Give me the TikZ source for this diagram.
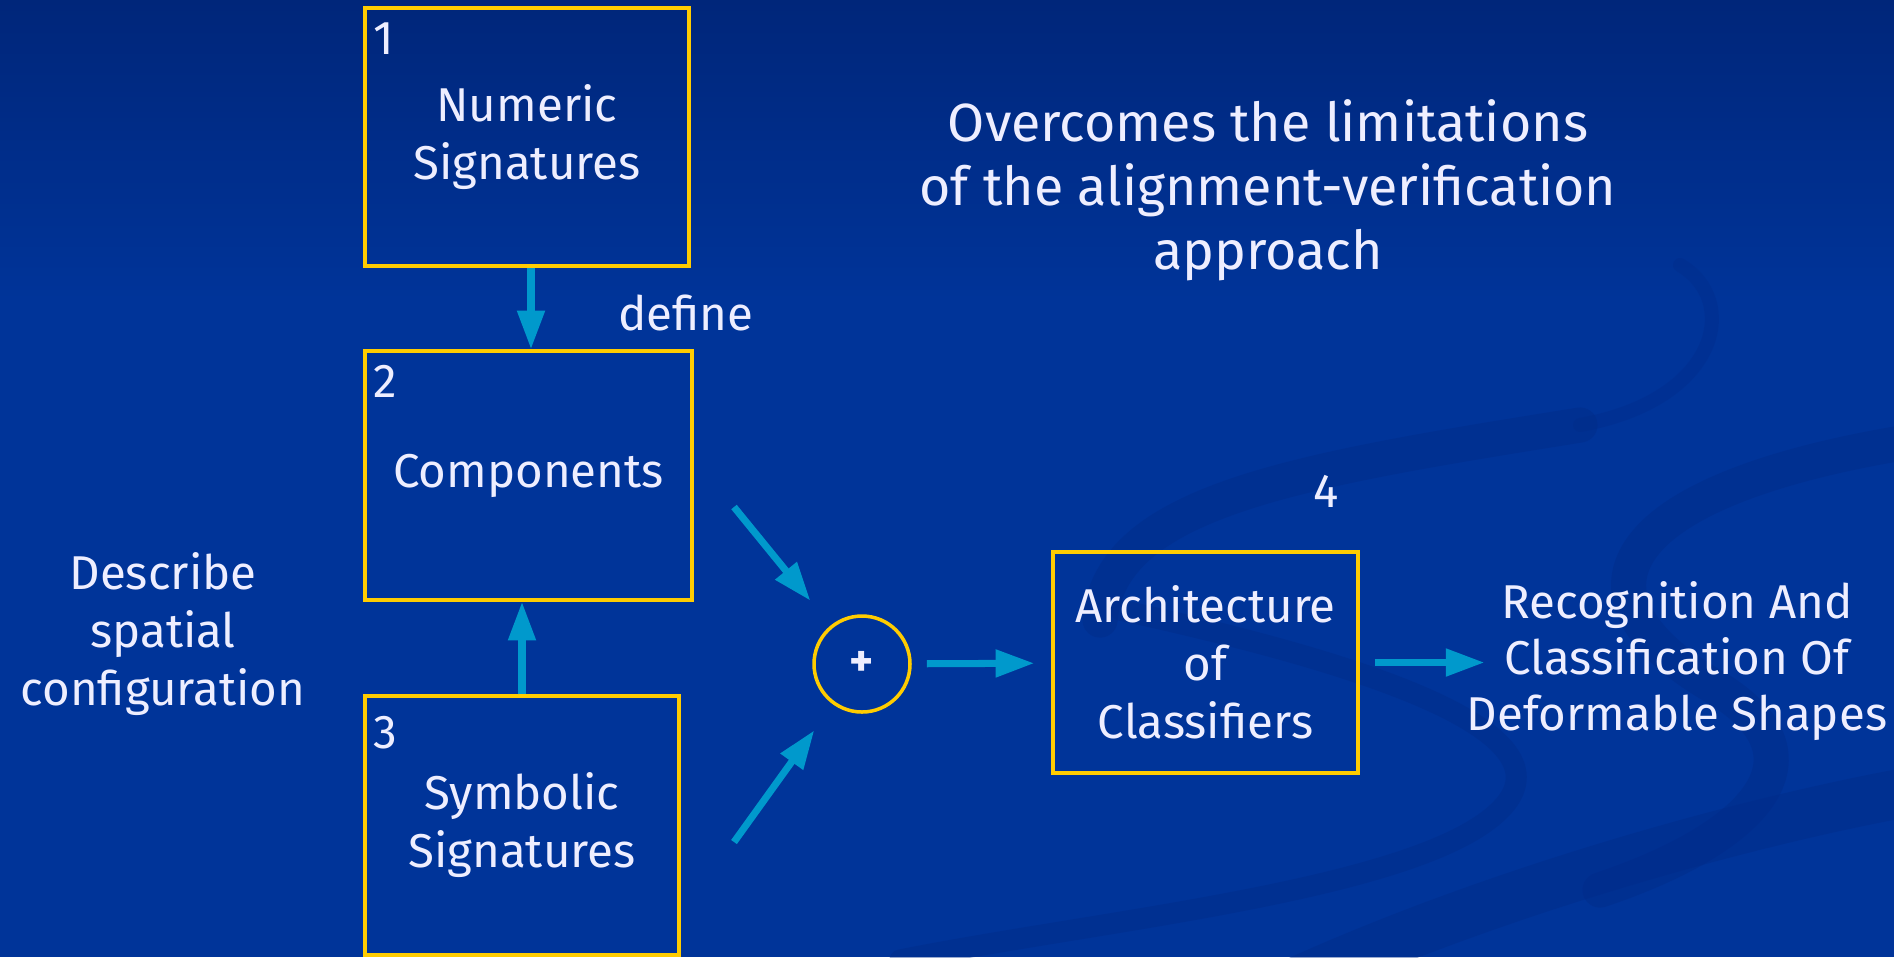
\documentclass[tikz,border=0pt]{standalone}
\usepackage{fontspec}
\setmainfont{Fira Sans}
\usetikzlibrary{arrows.meta}

\definecolor{bgtop}{RGB}{0,38,122}
\definecolor{bgbot}{RGB}{0,52,153}
\definecolor{swoosh}{RGB}{0,42,135}
\definecolor{boxline}{RGB}{255,204,0}
\definecolor{arrowblue}{RGB}{0,153,204}
\definecolor{slidetext}{RGB}{238,238,255}

\tikzset{
  stage/.style={draw=boxline, line width=1pt, inner sep=0pt},
  lbl/.style={text=slidetext, align=center, font=\fontsize{13.5}{16.5}\selectfont},
  numlbl/.style={text=slidetext, inner sep=0pt, font=\fontsize{13.5}{16.5}\selectfont},
  flow/.style={draw=arrowblue, line width=2pt, -{Triangle[length=11pt,width=7.5pt]}},
  band/.style={draw=swoosh, line width=10pt, line cap=round, opacity=0.4}
}

\begin{document}
\begin{tikzpicture}
    % background of the slide
    \fill[bgbot] (0,0) rectangle (18.94,-9.57);
    \shade[top color=bgtop, bottom color=bgbot] (0,0) rectangle (18.94,-3);
    \useasboundingbox (0,0) rectangle (18.94,-9.57);

    % swooshes
    \draw[band] (11.0,-6.2) .. controls (11.1,-5.0) and (13.0,-4.7) .. (15.8,-4.25);
    \draw[band, line width=4pt, opacity=0.3] (15.8,-4.25) .. controls (17.2,-4.0) and (17.4,-3.0) .. (16.8,-2.65);
    \draw[band, line width=6pt] (11.2,-6.1) .. controls (13.5,-6.6) and (15.8,-7.3) .. (15.0,-8.1)
                .. controls (14.2,-8.9) and (11.0,-9.2) .. (9.0,-9.6);
    \draw[band] (19.2,-4.4) .. controls (16.0,-4.9) and (15.6,-6.0) .. (17.2,-6.9)
                .. controls (18.3,-7.6) and (17.5,-8.4) .. (16.0,-8.9);
    \draw[band, line width=14pt] (13.0,-9.8) .. controls (15.0,-8.9) and (17.5,-8.2) .. (19.2,-7.9);

    % numbered stages
    \node[stage, lbl, minimum width=3.24cm, minimum height=2.58cm] (numeric) at (5.27,-1.37) {Numeric\\Signatures};
    \node[stage, lbl, minimum width=3.27cm, minimum height=2.49cm] (comp) at (5.285,-4.755) {Components};
    \node[stage, lbl, minimum width=3.14cm, minimum height=2.59cm] (symbolic) at (5.22,-8.255) {Symbolic\\Signatures};
    \node[stage, lbl, minimum width=3.05cm, minimum height=2.21cm] (arch) at (12.055,-6.625) {Architecture\\of\\Classifiers};
    \node[stage, circle, minimum size=0.96cm, text=slidetext, font=\bfseries\fontsize{13}{13}\selectfont] (sum) at (8.62,-6.64) {+};

    %% numbers
    \node[numlbl, anchor=north west] (num1) at (3.73,-0.22) {1};
    \node[numlbl, anchor=north west] (num2) at (3.73,-3.65) {2};
    \node[numlbl, anchor=north west] (num3) at (3.73,-7.16) {3};
    \node[numlbl, anchor=north] (num4) at (13.26,-4.75) {4};

    % free texts
    \node[lbl] (define) at (6.86,-3.13) {define};
    \node[lbl] (describe) at (1.63,-6.34) {Describe\\spatial\\configuration};
    \node[lbl, font=\fontsize{15.3}{18.2}\selectfont] (title) at (12.68,-1.90)
        {Overcomes the limitations\\of the alignment-verification\\approach};
    \node[lbl, font=\fontsize{13.5}{16}\selectfont] (result) at (16.77,-6.61)
        {Recognition And\\Classification Of\\Deformable Shapes};

    % connectors
    \coordinate (fromcomp) at (7.34,-5.07);
    \coordinate (fromsym) at (7.34,-8.42);
    \draw[flow] ([xshift=0.04cm]numeric.south) -- ([xshift=0.025cm]comp.north);
    \draw[flow] (symbolic.north) -- (symbolic.north |- comp.south);
    \draw[flow, shorten >=0.32cm] (fromcomp) -- (sum);
    \draw[flow, shorten >=0.32cm] (fromsym) -- (sum);
    \draw[flow, shorten <=0.15cm, shorten >=0.17cm] (sum) -- (arch);
    \draw[flow, shorten <=0.15cm, shorten >=-0.3cm] (arch.east) -- (arch.east -| result.west);
\end{tikzpicture}
\end{document}
